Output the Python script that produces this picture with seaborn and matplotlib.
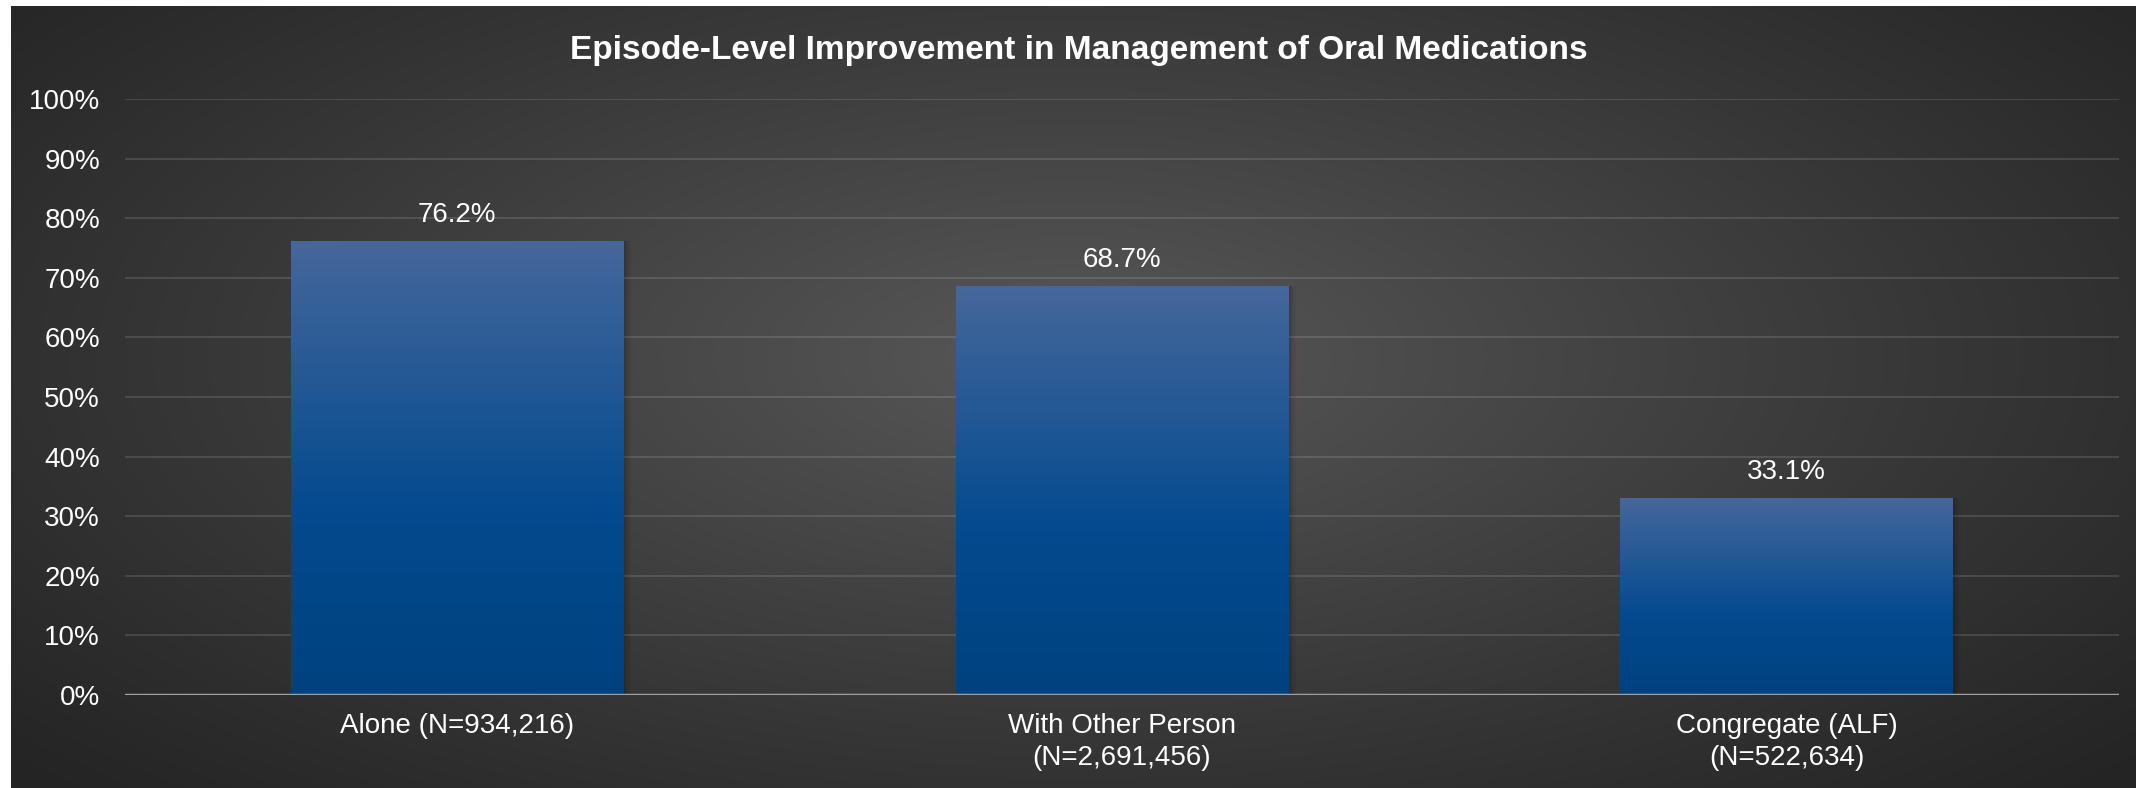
import matplotlib.pyplot as plt
import matplotlib.colors as mcolors
import numpy as np
import pandas as pd
import seaborn as sns

categories = ["Alone (N=934,216)", "With Other Person\n(N=2,691,456)", "Congregate (ALF)\n(N=522,634)"]
values = [76.2, 68.7, 33.1]
y_ticks = [0, 10, 20, 30, 40, 50, 60, 70, 80, 90, 100]
title = "Episode-Level Improvement in Management of Oral Medications"

df = pd.DataFrame({"group": categories, "pct": values})

sns.set_theme(style="dark")
plt.rcParams['font.family'] = ['Liberation Sans', 'DejaVu Sans']

fig = plt.figure(figsize=(21.36, 7.88), dpi=100, facecolor='white')

# dark radial background, with a thin white edge top/left
bg = fig.add_axes([11 / 2136, 0, 1 - 11 / 2136, 1 - 6 / 788], zorder=0)
yy, xx = np.mgrid[0:1:400j, 0:1:1000j]
r = np.sqrt(((xx - 0.5) / 0.68) ** 2 + ((yy - 0.45) / 0.8) ** 2)
shade = np.clip(1 - r, 0, 1) ** 1.1
bg_cmap = mcolors.LinearSegmentedColormap.from_list("bg", ["#242424", "#585858"])
bg.imshow(shade, cmap=bg_cmap, aspect='auto', extent=[0, 1, 0, 1], vmin=0, vmax=1)
bg.set_axis_off()

ax = fig.add_axes([125 / 2136, 93 / 788, (2119 - 125) / 2136, (695 - 99) / 788], zorder=1)
ax.patch.set_alpha(0)

sns.barplot(data=df, x="group", y="pct", width=0.5, color="#0a4a8c", ax=ax, zorder=3)

bar_cmap = mcolors.LinearSegmentedColormap.from_list(
    "bar", [(0, "#00427f"), (0.4, "#034a8e"), (1, "#46679b")])
grad = np.linspace(0, 1, 256).reshape(-1, 1)
for p in ax.patches:
    x0, w, h = p.get_x(), p.get_width(), p.get_height()
    # soft shadow on the right side
    for k, a in enumerate([0.10, 0.07, 0.04]):
        ax.add_patch(plt.Rectangle((x0 + w, 0), 0.004 * (k + 1), h, color='black',
                                   alpha=a, zorder=2, lw=0))
    im = ax.imshow(grad, cmap=bar_cmap, aspect='auto', origin='lower',
                   extent=[x0, x0 + w, 0, h], zorder=3)
    im.set_clip_path(p)
    p.set_facecolor('none')
    p.set_edgecolor('none')

ax.bar_label(ax.containers[0], labels=[f"{v:.1f}%" for v in values],
             padding=9, fontsize=20, color='white')

ax.set_xlim(-0.5, 2.5)
ax.set_ylim(0, 100)
ax.set_yticks(y_ticks)
ax.set_yticklabels([f"{t}%" for t in y_ticks])
ax.yaxis.grid(True, color='white', alpha=0.12, lw=1.5, zorder=1)
ax.xaxis.grid(False)
ax.axhline(0, color='#a0a0a0', lw=2.5, zorder=4)
for s in ax.spines.values():
    s.set_visible(False)
ax.tick_params(axis='y', length=0, pad=18, labelsize=20, labelcolor='white')
ax.tick_params(axis='x', length=0, pad=13, labelsize=20, labelcolor='white')
for lbl in ax.get_xticklabels():
    lbl.set_linespacing(1.3)
ax.set_xlabel("")
ax.set_ylabel("")

fig.text(0.505, 0.936, title, ha='center', va='center', fontsize=24,
         fontweight='bold', color='white')

fig.savefig("out.png", dpi=100, facecolor=fig.get_facecolor())
